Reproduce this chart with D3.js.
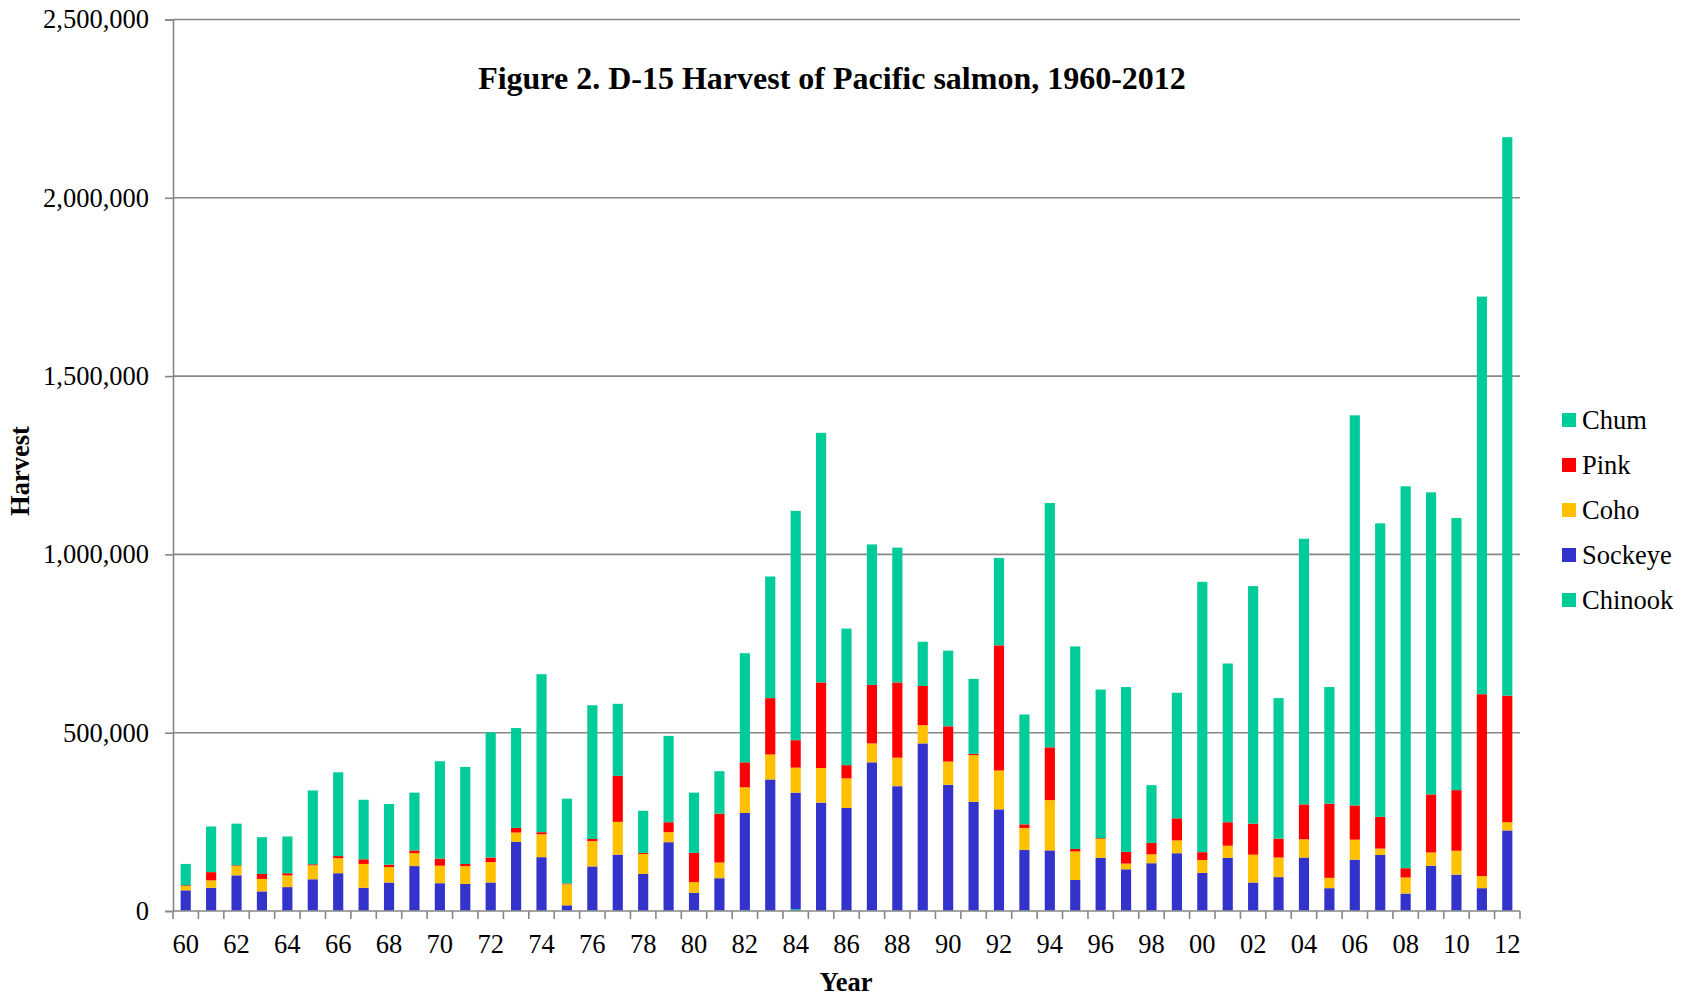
<!DOCTYPE html>
<html>
<head>
<meta charset="utf-8">
<script src="https://cdn.jsdelivr.net/npm/d3@7"></script>
<style>
  body { margin: 0; background: #fff; }
  svg { display: block; font-family: "Liberation Serif", "Times New Roman", serif; }
</style>
</head>
<body>
<div id="chart"></div>
<script>
// Harvest data, 1960-2012
const years = ["60","61","62","63","64","65","66","67","68","69",
               "70","71","72","73","74","75","76","77","78","79",
               "80","81","82","83","84","85","86","87","88","89",
               "90","91","92","93","94","95","96","97","98","99",
               "00","01","02","03","04","05","06","07","08","09",
               "10","11","12"];

const chinook = [1000,1000,1000,1000,1000,1000,1000,1000,1000,1000,
                 1000,1000,1000,1000,1000,1000,1000,1000,1000,1000,
                 1000,1000,3000,1000,5000,1000,1000,1000,1000,1000,
                 1000,1000,1000,1000,1000,1000,1000,1000,1000,1000,
                 1000,1000,1000,1000,1000,1000,1000,1000,1000,1000,
                 1000,1000,1000];

const sockeye = [57000,64000,99000,54000,66000,88000,105000,64000,79000,125000,
                 77000,75000,79000,193000,150000,15000,124000,157000,103000,192000,
                 50000,91000,272000,368000,327000,303000,288000,416000,349000,469000,
                 353000,305000,284000,170000,169000,86000,148000,116000,133000,161000,
                 106000,148000,79000,94000,149000,63000,143000,156000,48000,126000,
                 101000,63000,225000];

const coho = [12000,21000,26000,35000,33000,39000,42000,67000,43000,36000,
              49000,50000,57000,26000,64000,59000,71000,92000,56000,28000,
              30000,44000,72000,70000,70000,97000,83000,53000,80000,51000,
              65000,131000,109000,62000,141000,80000,53000,16000,25000,36000,
              36000,34000,78000,55000,51000,29000,56000,18000,45000,37000,
              67000,34000,23000];

const pink = [2000,23000,2000,14000,6000,3000,6000,13000,7000,8000,
              20000,6000,13000,13000,6000,2000,6000,129000,3000,28000,
              82000,137000,70000,158000,77000,240000,37000,164000,211000,110000,
              99000,4000,351000,10000,148000,7000,2000,33000,32000,62000,
              22000,66000,87000,53000,98000,208000,96000,89000,26000,163000,
              170000,510000,355000];

const chum = [60000,128000,117000,103000,103000,207000,235000,167000,170000,162000,
              273000,272000,351000,280000,443000,238000,375000,202000,118000,242000,
              169000,119000,306000,341000,643000,700000,383000,394000,378000,124000,
              212000,210000,245000,308000,685000,568000,417000,462000,162000,352000,
              758000,445000,666000,394000,745000,327000,1094000,823000,1071000,847000,
              763000,1115000,1566000];

const yTicks = [0, 500000, 1000000, 1500000, 2000000, 2500000];

// stack order bottom -> top
const seriesNames = ["Chinook", "Sockeye", "Coho", "Pink", "Chum"];
const seriesData = [chinook, sockeye, coho, pink, chum];
const colors = {Chinook: "#00cc99", Sockeye: "#3333cc", Coho: "#ffc000", Pink: "#ff0000", Chum: "#00cc99"};
const legendOrder = ["Chum", "Pink", "Coho", "Sockeye", "Chinook"];

const W = 1681, H = 1002;
const plotLeft = 173, plotRight = 1520, plotTop = 19.5, plotBottom = 911;
const gridColor = "#878787";

const svg = d3.select("#chart").append("svg")
    .attr("width", W)
    .attr("height", H);

const rows = years.map((yr, i) => {
    const r = {year: yr};
    seriesNames.forEach((s, k) => r[s] = seriesData[k][i]);
    return r;
});

const x = d3.scaleBand()
    .domain(years)
    .range([plotLeft, plotRight])
    .padding(0);

const y = d3.scaleLinear()
    .domain([0, 2500000])
    .range([plotBottom, plotTop]);

// gridlines
svg.append("g")
    .selectAll("line")
    .data(yTicks.filter(d => d > 0))
    .enter().append("line")
    .attr("x1", plotLeft).attr("x2", plotRight)
    .attr("y1", d => y(d)).attr("y2", d => y(d))
    .attr("stroke", gridColor)
    .attr("stroke-width", 1.6);

// bars
const stacked = d3.stack().keys(seriesNames)(rows);
const bw = x.bandwidth() * 0.4;

svg.append("g")
    .selectAll("g")
    .data(stacked)
    .enter().append("g")
    .attr("fill", d => colors[d.key])
    .selectAll("rect")
    .data(d => d)
    .enter().append("rect")
    .attr("x", d => x(d.data.year) + (x.bandwidth() - bw) / 2)
    .attr("y", d => y(d[1]))
    .attr("width", bw)
    .attr("height", d => y(d[0]) - y(d[1]));

// y axis
const yAxis = svg.append("g")
    .attr("transform", `translate(${plotLeft},0)`)
    .call(d3.axisLeft(y).tickValues(yTicks).tickFormat(d3.format(",")).tickSize(8).tickPadding(16));
yAxis.select(".domain").attr("stroke", gridColor).attr("stroke-width", 1.6);
yAxis.selectAll(".tick line").attr("stroke", gridColor).attr("stroke-width", 1.6);
yAxis.selectAll("text")
    .attr("font-family", "Liberation Serif")
    .attr("font-size", 26.5)
    .attr("fill", "#000");

// x axis: line, ticks between categories, labels every other year
const xg = svg.append("g");
xg.append("line")
    .attr("x1", plotLeft).attr("x2", plotRight)
    .attr("y1", plotBottom).attr("y2", plotBottom)
    .attr("stroke", gridColor).attr("stroke-width", 1.6);
xg.selectAll(".xt")
    .data(years.map(d => x(d)).concat([plotRight]))
    .enter().append("line")
    .attr("x1", d => d).attr("x2", d => d)
    .attr("y1", plotBottom).attr("y2", plotBottom + 8)
    .attr("stroke", gridColor).attr("stroke-width", 1.6);
xg.selectAll("text")
    .data(years.filter((d, i) => i % 2 === 0))
    .enter().append("text")
    .attr("x", d => x(d) + x.bandwidth() / 2)
    .attr("y", 953)
    .attr("text-anchor", "middle")
    .attr("font-size", 26.5)
    .text(d => d);

// titles
svg.append("text")
    .attr("x", 832).attr("y", 89)
    .attr("text-anchor", "middle")
    .attr("font-size", 32)
    .attr("font-weight", "bold")
    .text("Figure 2. D-15 Harvest of Pacific salmon, 1960-2012");

svg.append("text")
    .attr("transform", "translate(29,471) rotate(-90)")
    .attr("text-anchor", "middle")
    .attr("font-size", 26.5)
    .attr("font-weight", "bold")
    .text("Harvest");

svg.append("text")
    .attr("x", 846).attr("y", 991)
    .attr("text-anchor", "middle")
    .attr("font-size", 26.5)
    .attr("font-weight", "bold")
    .text("Year");

// legend
const legend = svg.append("g")
    .selectAll("g")
    .data(legendOrder)
    .enter().append("g")
    .attr("transform", (d, i) => `translate(1562,${420 + i * 45})`);
legend.append("rect")
    .attr("x", 0).attr("y", -7)
    .attr("width", 14).attr("height", 14)
    .attr("fill", d => colors[d]);
legend.append("text")
    .attr("x", 20).attr("y", 9)
    .attr("font-size", 26.5)
    .text(d => d);
</script>
</body>
</html>
